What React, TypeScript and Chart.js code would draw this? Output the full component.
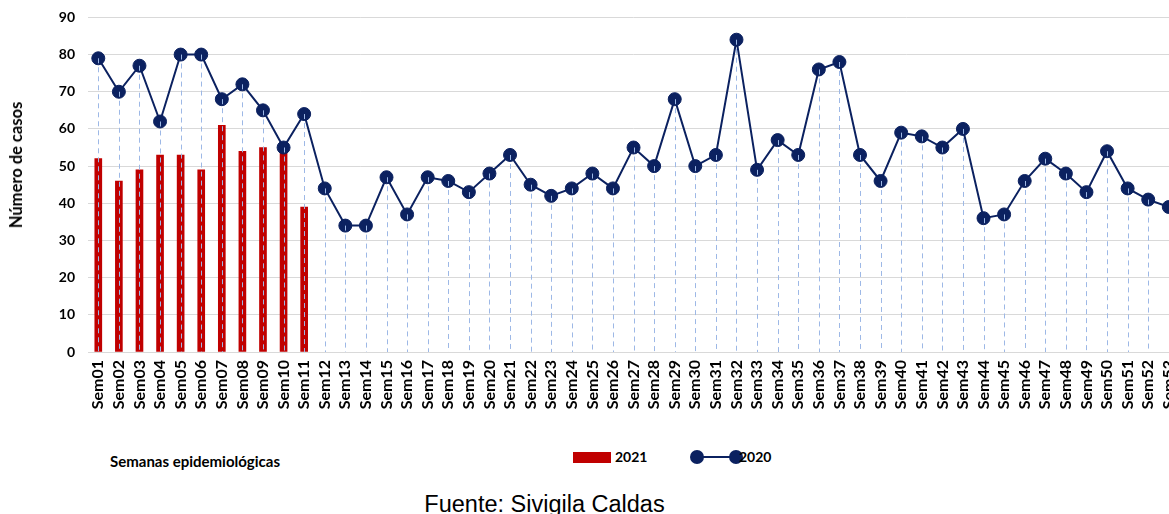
import React, { useEffect, useRef } from "react";
import { Chart, registerables } from "chart.js";

Chart.register(...registerables);

const weeks = [
  "Sem01", "Sem02", "Sem03", "Sem04", "Sem05", "Sem06", "Sem07", "Sem08", "Sem09", "Sem10",
  "Sem11", "Sem12", "Sem13", "Sem14", "Sem15", "Sem16", "Sem17", "Sem18", "Sem19", "Sem20",
  "Sem21", "Sem22", "Sem23", "Sem24", "Sem25", "Sem26", "Sem27", "Sem28", "Sem29", "Sem30",
  "Sem31", "Sem32", "Sem33", "Sem34", "Sem35", "Sem36", "Sem37", "Sem38", "Sem39", "Sem40",
  "Sem41", "Sem42", "Sem43", "Sem44", "Sem45", "Sem46", "Sem47", "Sem48", "Sem49", "Sem50",
  "Sem51", "Sem52", "Sem53",
];

const cases2021 = [52, 46, 49, 53, 53, 49, 61, 54, 55, 54, 39];

const cases2020 = [
  79, 70, 77, 62, 80, 80, 68, 72, 65, 55,
  64, 44, 34, 34, 47, 37, 47, 46, 43, 48,
  53, 45, 42, 44, 48, 44, 55, 50, 68, 50,
  53, 84, 49, 57, 53, 76, 78, 53, 46, 59,
  58, 55, 60, 36, 37, 46, 52, 48, 43, 54,
  44, 41, 39,
];

const yMin = 0;
const yMax = 90;
const yStep = 10;

const RED = "#C00000";
const NAVY = "#0B2160";
const DROP = "#9DB8E6";
const FONT = "Lato, 'Open Sans', sans-serif";

const dropLines = {
  id: "dropLines",
  afterDatasetsDraw(chart: any) {
    const meta = chart.getDatasetMeta(1);
    const bottom = chart.chartArea.bottom;
    const ctx = chart.ctx;
    ctx.save();
    ctx.strokeStyle = DROP;
    ctx.lineWidth = 1;
    ctx.setLineDash([5, 4]);
    meta.data.forEach((pt: any) => {
      const x = Math.round(pt.x) + 0.5;
      ctx.beginPath();
      ctx.moveTo(x, pt.y);
      ctx.lineTo(x, bottom);
      ctx.stroke();
    });
    ctx.restore();
  },
};

export default function App() {
  const ref = useRef<HTMLCanvasElement | null>(null);

  useEffect(() => {
    if (!ref.current) return;
    const chart = new Chart(ref.current, {
      type: "bar",
      data: {
        labels: weeks,
        datasets: [
          {
            type: "bar",
            label: "2021",
            data: cases2021,
            backgroundColor: RED,
            barThickness: 7,
            order: 2,
          },
          {
            type: "line",
            label: "2020",
            data: cases2020,
            borderColor: NAVY,
            backgroundColor: NAVY,
            borderWidth: 2,
            pointRadius: 6.5,
            pointHoverRadius: 6.5,
            pointBorderWidth: 1,
            pointBackgroundColor: NAVY,
            pointBorderColor: NAVY,
            tension: 0,
            clip: false,
            order: 1,
          },
        ],
      } as any,
      options: {
        responsive: false,
        animation: false,
        layout: { autoPadding: false, padding: { top: 17, right: 0, left: 0, bottom: 0 } },
        plugins: {
          legend: { display: false },
          tooltip: { enabled: false },
        },
        scales: {
          x: {
            offset: true,
            grid: { display: false, drawTicks: false },
            border: { display: true, color: "#D9D9D9", width: 1 },
            ticks: {
              autoSkip: false,
              maxRotation: 90,
              minRotation: 90,
              padding: 8,
              color: "#000",
              font: { family: FONT, size: 16, weight: "bold" },
            },
            afterFit: (s: any) => {
              s.height = 78;
            },
          },
          y: {
            min: yMin,
            max: yMax,
            ticks: {
              stepSize: yStep,
              padding: 13,
              color: "#000",
              font: { family: FONT, size: 14, weight: "bold" },
            },
            grid: { color: "#D9D9D9", lineWidth: 1, drawTicks: false },
            border: { display: false },
            title: { display: false },
            afterFit: (s: any) => {
              s.width = 88;
            },
          },
        },
      },
      plugins: [dropLines],
    });
    return () => chart.destroy();
  }, []);

  return (
    <div
      style={{
        position: "fixed",
        left: 0,
        top: 0,
        width: 1169,
        height: 514,
        overflow: "hidden",
        background: "#fff",
      }}
    >
      <canvas
        ref={ref}
        width={1196}
        height={434}
        style={{ position: "absolute", left: 0, top: -4, width: 1196, height: 434 }}
      />
      <div
        style={{
          position: "absolute",
          left: 16,
          top: 165,
          transform: "translate(-50%, -50%) rotate(-90deg)",
          fontFamily: FONT,
          fontWeight: 700,
          fontSize: 16.5,
          lineHeight: "18px",
          color: "#000",
          whiteSpace: "nowrap",
        }}
      >
        Número de casos
      </div>
      <div
        style={{
          position: "absolute",
          left: 110,
          top: 451,
          fontFamily: FONT,
          fontWeight: 700,
          fontSize: 15,
          lineHeight: "20px",
          color: "#000",
          whiteSpace: "nowrap",
        }}
      >
        Semanas epidemiológicas
      </div>
      <div
        style={{
          position: "absolute",
          left: 573,
          top: 452,
          width: 38,
          height: 11,
          background: RED,
        }}
      />
      <div
        style={{
          position: "absolute",
          left: 615,
          top: 447,
          fontFamily: FONT,
          fontWeight: 700,
          fontSize: 14,
          lineHeight: "20px",
          color: "#000",
        }}
      >
        2021
      </div>
      <div
        style={{
          position: "absolute",
          left: 697,
          top: 456,
          width: 39,
          height: 2,
          background: NAVY,
        }}
      />
      <div
        style={{
          position: "absolute",
          left: 690,
          top: 450,
          width: 14,
          height: 14,
          borderRadius: "50%",
          background: NAVY,
        }}
      />
      <div
        style={{
          position: "absolute",
          left: 729,
          top: 450,
          width: 14,
          height: 14,
          borderRadius: "50%",
          background: NAVY,
        }}
      />
      <div
        style={{
          position: "absolute",
          left: 739,
          top: 447,
          fontFamily: FONT,
          fontWeight: 700,
          fontSize: 14,
          lineHeight: "20px",
          color: "#000",
        }}
      >
        2020
      </div>
      <div
        style={{
          position: "absolute",
          left: 0,
          width: 1089,
          top: 490,
          textAlign: "center",
          fontFamily: "'Liberation Sans', Arial, sans-serif",
          fontSize: 23.5,
          lineHeight: "28px",
          color: "#000",
          whiteSpace: "nowrap",
        }}
      >
        Fuente: Sivigila Caldas
      </div>
    </div>
  );
}
